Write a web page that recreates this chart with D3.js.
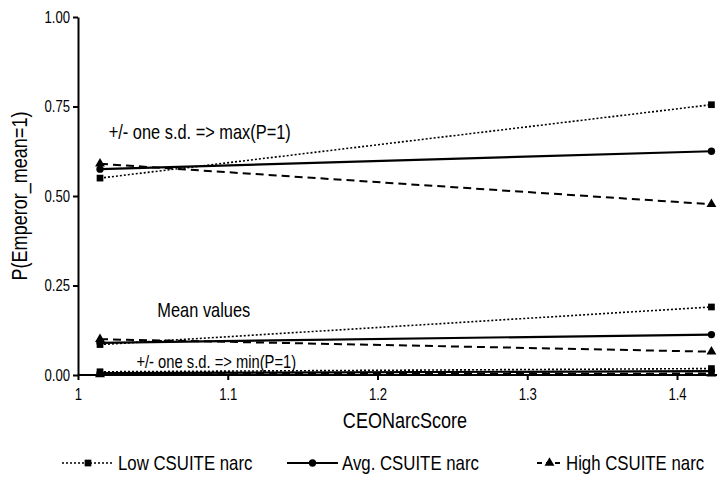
<!DOCTYPE html>
<html>
<head>
<meta charset="utf-8">
<script src="https://cdn.jsdelivr.net/npm/d3@7"></script>
<style>
    body { margin: 0; background: #fff; }
    svg { font-family: "Liberation Sans", Arial, sans-serif; }
    .axis path, .axis line { stroke: #000; stroke-width: 2; }
    .axis text { font-size: 16px; fill: #000; }
</style>
</head>
<body>
<svg id="chart" width="723" height="489"></svg>
<script>
const xValues = [1.0147, 1.423];
const xTicks = [1, 1.1, 1.2, 1.3, 1.4];
const yTicks = [0, 0.25, 0.5, 0.75, 1];

// three groups of lines: +1 s.d., mean and -1 s.d.
const lowMax = [0.55, 0.755];
const avgMax = [0.575, 0.625];
const highMax = [0.59, 0.477];
const lowMean = [0.085, 0.19];
const avgMean = [0.09, 0.113];
const highMean = [0.10, 0.065];
const lowMin = [0.009, 0.018];
const avgMin = [0.005, 0.011];
const highMin = [0.002, 0.004];

const seriesNames = ['Low CSUITE narc', 'Avg. CSUITE narc', 'High CSUITE narc'];

const annotations = [
    { text: '+/- one s.d. => max(P=1)', x: 1.0205, y: 0.658, size: 20 },
    { text: 'Mean values', x: 1.053, y: 0.163, size: 20 },
    { text: '+/- one s.d. => min(P=1)', x: 1.039, y: 0.02, size: 18 }
];

const SQUEEZE = 0.82; // reference font is a narrow one

const styles = {
    'Low CSUITE narc': { dash: '2,2', width: 1.6, marker: 'square', legendLen: 52 },
    'Avg. CSUITE narc': { dash: null, width: 2.2, marker: 'circle', legendLen: 51 },
    'High CSUITE narc': { dash: '8,5', width: 2, marker: 'triangle', legendLen: 25 }
};

const lines = [
    { name: seriesNames[0], values: lowMax },
    { name: seriesNames[1], values: avgMax },
    { name: seriesNames[2], values: highMax },
    { name: seriesNames[0], values: lowMean },
    { name: seriesNames[1], values: avgMean },
    { name: seriesNames[2], values: highMean },
    { name: seriesNames[0], values: lowMin },
    { name: seriesNames[1], values: avgMin },
    { name: seriesNames[2], values: highMin }
];

const svg = d3.select('#chart');

const x = d3.scaleLinear().domain([1, 1.4]).range([78, 677]);
const y = d3.scaleLinear().domain([0, 1]).range([375, 17]);

const markerPath = {
    square: d3.symbol().type(d3.symbolSquare).size(45)(),
    circle: d3.symbol().type(d3.symbolCircle).size(42)(),
    triangle: d3.symbol().type(d3.symbolTriangle).size(42)()
};

function narrowText(parent, px, py, size, str, anchor) {
    return parent.append('text')
        .attr('transform', `translate(${px},${py}) scale(${SQUEEZE},1)`)
        .attr('text-anchor', anchor || 'start')
        .attr('font-size', size)
        .text(str);
}

// axes
const yAxis = svg.append('g')
    .attr('class', 'axis')
    .attr('transform', `translate(${x(1)},0)`)
    .call(d3.axisLeft(y).tickValues(yTicks).tickFormat(d3.format('.2f')).tickSize(5).tickSizeOuter(0));
yAxis.selectAll('text')
    .attr('x', -8 / SQUEEZE)
    .attr('transform', `scale(${SQUEEZE},1)`);

const xAxis = svg.append('g')
    .attr('class', 'axis')
    .attr('transform', `translate(0,${y(0)})`)
    .call(d3.axisBottom(x).tickValues(xTicks).tickFormat(d => d).tickSize(5).tickSizeOuter(0));
xAxis.select('.domain').attr('d', `M${x(1)},0H717`);
xAxis.selectAll('text')
    .attr('dy', '1.05em')
    .attr('transform', `scale(${SQUEEZE},1)`);

svg.append('text')
    .attr('transform', `translate(27,${y(0.5)}) rotate(-90) scale(${SQUEEZE},1)`)
    .attr('text-anchor', 'middle')
    .attr('font-size', 22)
    .text('P(Emperor_mean=1)');

narrowText(svg, 405, 428, 22, 'CEONarcScore', 'middle');

// lines and markers
const line = d3.line()
    .x((d, i) => x(xValues[i]))
    .y(d => y(d));

lines.forEach(s => {
    const st = styles[s.name];
    svg.append('path')
        .attr('d', line(s.values))
        .attr('fill', 'none')
        .attr('stroke', '#000')
        .attr('stroke-width', st.width)
        .attr('stroke-dasharray', st.dash);
    s.values.forEach((v, i) => {
        svg.append('path')
            .attr('d', markerPath[st.marker])
            .attr('transform', `translate(${x(xValues[i])},${y(v)})`)
            .attr('fill', '#000');
    });
});

annotations.forEach(a => {
    narrowText(svg, x(a.x), y(a.y), a.size, a.text);
});

// legend
const legendX = [62, 287, 537];
const legend = svg.append('g').attr('transform', 'translate(0,463)');
seriesNames.forEach((name, i) => {
    const st = styles[name];
    const g = legend.append('g').attr('transform', `translate(${legendX[i]},0)`);
    g.append('line')
        .attr('x1', 0).attr('x2', st.legendLen)
        .attr('stroke', '#000')
        .attr('stroke-width', st.width)
        .attr('stroke-dasharray', st.marker === 'triangle' ? '5,4' : st.dash);
    g.append('path')
        .attr('d', markerPath[st.marker])
        .attr('transform', `translate(${st.legendLen / 2},0)`);
    narrowText(g, st.legendLen + 4, 7, 20.5, name);
});
</script>
</body>
</html>
